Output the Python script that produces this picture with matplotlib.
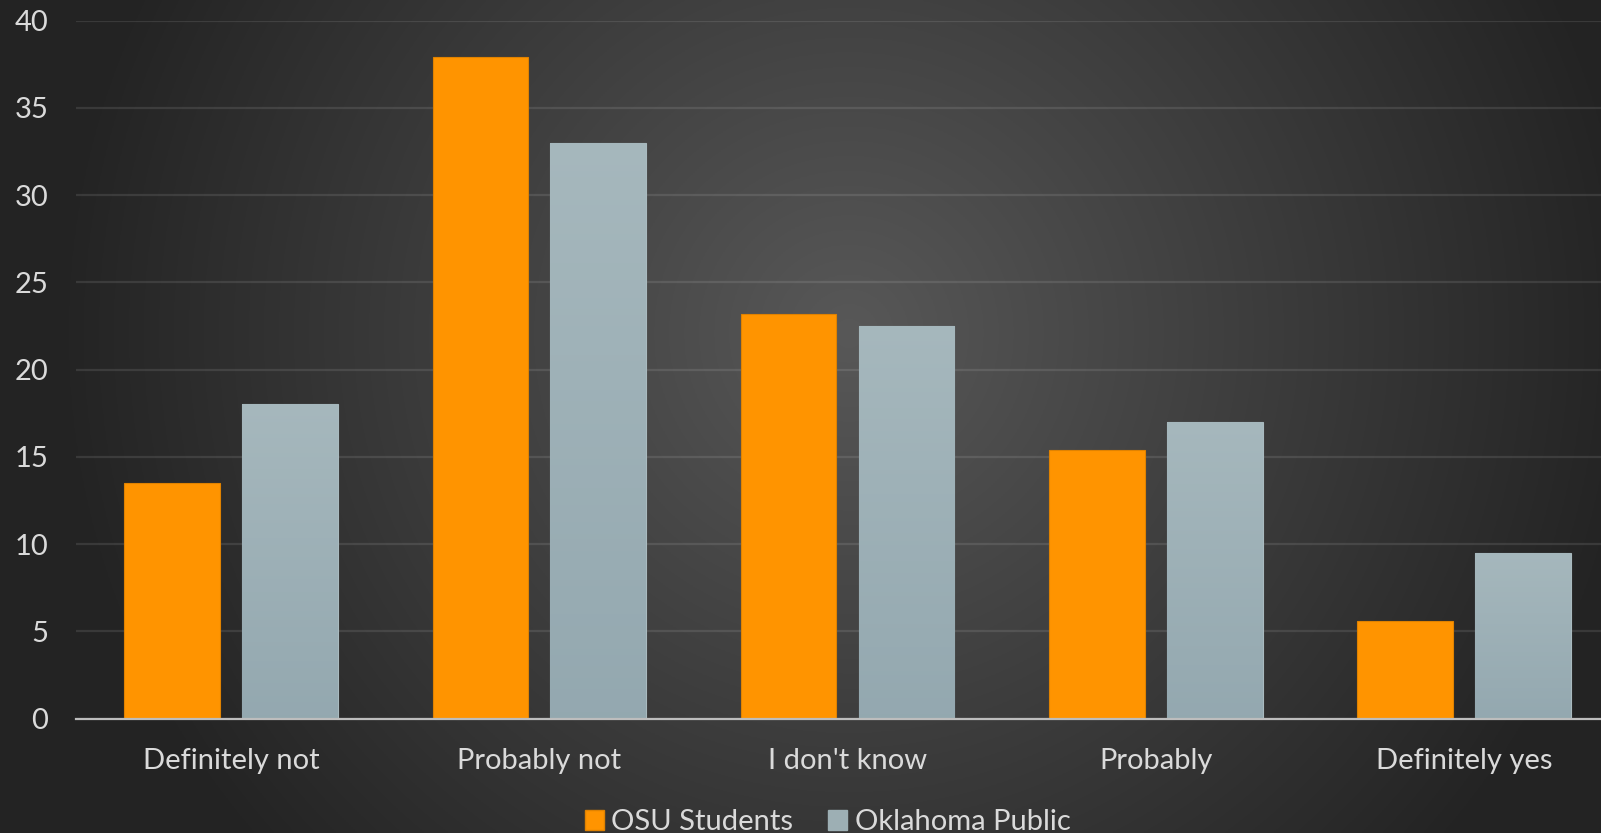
import numpy as np
import matplotlib.pyplot as plt
from matplotlib.patches import Patch

# -----------------------------
# Data
# -----------------------------
categories = ["Definitely not", "Probably not", "I don't know", "Probably", "Definitely yes"]
osu_students = [13.5, 37.9, 23.2, 15.4, 5.6]
ok_public = [18.0, 33.0, 22.5, 17.0, 9.5]
series_names = ["OSU Students", "Oklahoma Public"]

ORANGE = "#FF9400"
GREY = "#9DAFB4"
TEXT = "#DADADA"

plt.rcParams['font.family'] = ['Lato', 'DejaVu Sans']

fig = plt.figure(figsize=(16.01, 8.33), dpi=100)

# radial gradient background
bg = fig.add_axes([0, 0, 1, 1], zorder=-10)
yy, xx = np.mgrid[0:1:400j, 0:1:800j]
r = np.sqrt(((xx - 0.53) * 1.9) ** 2 + ((yy - 0.40) * 1.0) ** 2)
shade = np.clip(0.345 - 0.22 * r, 0.14, 0.345)
bg.imshow(np.dstack([shade] * 3), extent=[0, 1, 0, 1], aspect='auto', origin='upper')
bg.axis('off')

ax = fig.add_axes([76 / 1601, 1 - 718.5 / 833, 1 - 76 / 1601, (718.5 - 20.7) / 833])
ax.patch.set_alpha(0)

x = np.arange(len(categories))
w = 0.31
off = 0.191

# bars
ax.bar(x - off, osu_students, w, color=ORANGE, edgecolor="#E08200", linewidth=0.8, zorder=3)
bars = ax.bar(x + off, ok_public, w, color=GREY, edgecolor="#A9BABF", linewidth=0.8, zorder=3)

# soft vertical gradient on the grey bars
grad = np.linspace(0, 1, 100).reshape(-1, 1)
top_c = np.array([0.65, 0.72, 0.74])
bot_c = np.array([0.58, 0.66, 0.69])
img = top_c * (1 - grad[..., None]) + bot_c * grad[..., None]
for b in bars:
    x0, y0 = b.get_x(), b.get_y()
    im = ax.imshow(img, extent=[x0, x0 + b.get_width(), y0, y0 + b.get_height()],
                   aspect='auto', origin='upper', zorder=3.5)
    im.set_clip_path(b)

ax.set_xlim(-0.503, 4.444)
ax.set_ylim(0, 40)
ax.set_yticks(np.arange(0, 41, 5))
ax.set_xticks(x)
ax.set_xticklabels(categories)

ax.yaxis.grid(True, color="white", alpha=0.1, linewidth=1.6, zorder=0)
ax.set_axisbelow(True)
for s in ["top", "right", "left"]:
    ax.spines[s].set_visible(False)
ax.spines["bottom"].set_color("#BDBDBD")
ax.spines["bottom"].set_linewidth(1.6)
ax.spines["bottom"].set_zorder(5)

ax.tick_params(axis='y', length=0, pad=20, labelsize=21, labelcolor=TEXT)
ax.tick_params(axis='x', length=0, pad=21, labelsize=21, labelcolor=TEXT)

handles = [Patch(facecolor=ORANGE, edgecolor="#E08200"), Patch(facecolor=GREY, edgecolor=GREY)]
fig.legend(handles, series_names, loc='center', bbox_to_anchor=(0.517, 0.013), ncol=2,
           frameon=False, fontsize=21, labelcolor=TEXT, handlelength=0.65, handleheight=0.65,
           handletextpad=0.25, columnspacing=1.2)

fig.savefig("out.png", dpi=100)
